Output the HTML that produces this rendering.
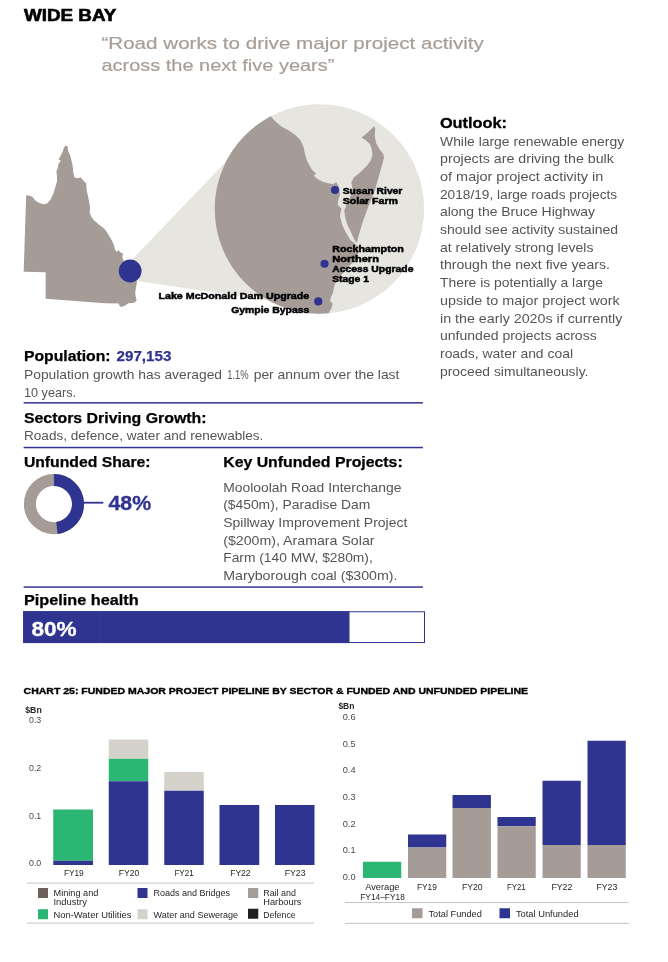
<!DOCTYPE html>
<html lang="en"><head><meta charset="utf-8"><title>Wide Bay</title>
<style>
html,body{margin:0;padding:0;background:#fff}
body{width:668px;height:962px;overflow:hidden}
svg{display:block}
svg text{font-family:"Liberation Sans",sans-serif;white-space:pre}
</style></head><body>
<svg width="668" height="962" viewBox="0 0 668 962">
<rect width="668" height="962" fill="#fff"/>
<g transform="translate(0.4,0.5)">
<text x="23.5" y="20" font-size="16.5" font-weight="700" fill="#000" textLength="92.5" lengthAdjust="spacingAndGlyphs" stroke="#000" stroke-width="0.6">WIDE BAY</text>
<text x="101" y="48.3" font-size="17" font-weight="400" fill="#a89e98" textLength="382.5" lengthAdjust="spacingAndGlyphs" stroke="#a89e98" stroke-width="0.2">“Road works to drive major project activity</text>
<text x="101" y="70.8" font-size="17" font-weight="400" fill="#a89e98" textLength="233" lengthAdjust="spacingAndGlyphs" stroke="#a89e98" stroke-width="0.2">across the next five years”</text>
<polygon points="129.6,261.3 245.0,140.7 289.6,303.3 137.1,280.4" fill="#e7e5e0"/>
<circle cx="319.0" cy="208.5" r="104.7" fill="#e7e5e0"/>
<path transform="translate(-0.5,-0.6)" d="M65.9,145.7 L67.5,146.3 L68.4,151.3 L70.3,155.7 L71.6,160.7 L72.6,165.2 L73.4,172.7 L74.7,177.7 L77.8,178.4 L81,177.5 L82.9,180.2 L86.3,183.4 L86.7,190.3 L87.9,195.3 L89.2,201.6 L90.2,207.9 L89.8,212.9 L91.7,217.3 L93.8,220 L98.9,224.5 L104.5,228.9 L107.7,233.3 L111.4,239.6 L114,245.2 L115.2,250.2 L117.1,252.1 L118.4,250.2 L120.9,252.8 L123.1,253.4 L122.5,257.2 L123.4,260.3 L130,271 L137.2,281.7 L136,288 L135.3,293 L136,298 L136.8,299.9 L135.3,302.4 L132.2,303.1 L128.4,303.3 L125.3,305.6 L121.5,307.2 L119.6,306.2 L119,303.7 L105.2,303.3 L45.75,298.9 L45.75,272.4 L23.75,271.75 L26.3,195.3 L29.4,195.6 L32.6,197.2 L35.1,200.4 L38.9,202.9 L43.3,204.4 L47,203.5 L50.2,200.4 L53.3,194.1 L55.2,187.8 L57.1,181.5 L57.1,176.5 L56.5,171.4 L57.7,168.9 L58.4,164.5 L60.9,160.7 L58.7,159.5 L60.5,156.3 L62.8,151.9 L64,147.5Z" fill="#a59c97"/>
<circle cx="129.75" cy="270.5" r="11.4" fill="#2f3490"/>
<clipPath id="cc"><circle cx="319.0" cy="208.5" r="104.7"/></clipPath>
<g clip-path="url(#cc)"><path d="M270.6,116.1 L274.8,120.7 L281.0,125.9 L288.4,130.1 L294.7,134.3 L299.9,139.6 L303.0,145.9 L304.5,153.2 L307.2,161.6 L311.4,168.9 L315.6,173.1 L313.5,175.2 L316.7,178.3 L321.9,180.9 L327.5,182.8 L332.5,183.6 L336.0,181.8 L338.8,187.0 L339.6,194.5 L338.0,198.9 L337.3,204.2 L341.0,207.9 L339.6,215.4 L341.8,224.4 L345.5,231.9 L350.0,239.4 L354.5,243.1 L358.6,247.6 L357.4,254.2 L355.7,259.1 L345.0,269.0 L337.6,278.9 L334.3,283.8 L332.6,292.1 L330.4,297.1 L329.6,300.5 L332.2,303.0 L331.3,307.3 L327.8,313.5 L200,330 L200,90 Z" fill="#a59c97"/>
<path d="M373.9,125.5 L374.8,128.2 L374.4,135.4 L375.7,142.6 L379.3,148.9 L382.9,153.4 L383.6,157.0 L379.6,172.0 L374.6,189.5 L367.6,207.0 L362.1,222.0 L358.4,234.5 L356.6,242.5 L354.1,239.5 L350.8,231.9 L347.0,224.4 L344.8,216.9 L343.8,210.0 L345.8,204.9 L349.6,197.0 L352.1,188.2 L350.9,182.0 L353.4,177.0 L359.6,172.0 L367.1,164.5 L370.6,159.5 L372.1,153.4 L371.2,148.0 L369.4,143.5 L365.8,139.9 L361.3,137.2 L363.1,135.4 L367.6,131.8 L371.2,128.2Z" fill="#a59c97"/></g>
<circle cx="334.6" cy="189.5" r="4.1" fill="#2f3490"/>
<circle cx="324.1" cy="263.25" r="4.1" fill="#2f3490"/>
<circle cx="317.9" cy="300.9" r="4.1" fill="#2f3490"/>
<text x="342.3" y="193.2" font-size="9.6" font-weight="700" fill="#000" textLength="59.7" lengthAdjust="spacingAndGlyphs" stroke="#000" stroke-width="0.5">Susan River</text>
<text x="342.3" y="203.2" font-size="9.6" font-weight="700" fill="#000" textLength="55.2" lengthAdjust="spacingAndGlyphs" stroke="#000" stroke-width="0.5">Solar Farm</text>
<text x="331.8" y="251.3" font-size="9.6" font-weight="700" fill="#000" textLength="71.7" lengthAdjust="spacingAndGlyphs" stroke="#000" stroke-width="0.5">Rockhampton</text>
<text x="331.8" y="261.5" font-size="9.6" font-weight="700" fill="#000" textLength="46.7" lengthAdjust="spacingAndGlyphs" stroke="#000" stroke-width="0.5">Northern</text>
<text x="331.8" y="271.9" font-size="9.6" font-weight="700" fill="#000" textLength="81.2" lengthAdjust="spacingAndGlyphs" stroke="#000" stroke-width="0.5">Access Upgrade</text>
<text x="331.8" y="281.8" font-size="9.6" font-weight="700" fill="#000" textLength="36.7" lengthAdjust="spacingAndGlyphs" stroke="#000" stroke-width="0.5">Stage 1</text>
<text x="158.0" y="298.6" font-size="9.6" font-weight="700" fill="#000" textLength="150.9" lengthAdjust="spacingAndGlyphs" stroke="#000" stroke-width="0.5">Lake McDonald Dam Upgrade</text>
<text x="230.8" y="312.2" font-size="9.6" font-weight="700" fill="#000" textLength="78.1" lengthAdjust="spacingAndGlyphs" stroke="#000" stroke-width="0.5">Gympie Bypass</text>
<text x="439.5" y="127.4" font-size="14.5" font-weight="700" fill="#000" textLength="67.1" lengthAdjust="spacingAndGlyphs" stroke="#000" stroke-width="0.3">Outlook:</text>
<text x="439.6" y="145.2" font-size="12.8" font-weight="400" fill="#555" textLength="184.1" lengthAdjust="spacingAndGlyphs" >While large renewable energy</text>
<text x="439.6" y="162.88" font-size="12.8" font-weight="400" fill="#555" textLength="173.9" lengthAdjust="spacingAndGlyphs" >projects are driving the bulk</text>
<text x="439.6" y="180.56" font-size="12.8" font-weight="400" fill="#555" textLength="163.4" lengthAdjust="spacingAndGlyphs" >of major project activity in</text>
<text x="439.6" y="198.24" font-size="12.8" font-weight="400" fill="#555" textLength="177.2" lengthAdjust="spacingAndGlyphs" >2018/19, large roads projects</text>
<text x="439.6" y="215.92" font-size="12.8" font-weight="400" fill="#555" textLength="155.1" lengthAdjust="spacingAndGlyphs" >along the Bruce Highway</text>
<text x="439.6" y="233.6" font-size="12.8" font-weight="400" fill="#555" textLength="178.1" lengthAdjust="spacingAndGlyphs" >should see activity sustained</text>
<text x="439.6" y="251.28" font-size="12.8" font-weight="400" fill="#555" textLength="153.4" lengthAdjust="spacingAndGlyphs" >at relatively strong levels</text>
<text x="439.6" y="268.96" font-size="12.8" font-weight="400" fill="#555" textLength="169.9" lengthAdjust="spacingAndGlyphs" >through the next five years.</text>
<text x="439.6" y="286.64" font-size="12.8" font-weight="400" fill="#555" textLength="163.0" lengthAdjust="spacingAndGlyphs" >There is potentially a large</text>
<text x="439.6" y="304.32" font-size="12.8" font-weight="400" fill="#555" textLength="179.8" lengthAdjust="spacingAndGlyphs" >upside to major project work</text>
<text x="439.6" y="322.0" font-size="12.8" font-weight="400" fill="#555" textLength="182.4" lengthAdjust="spacingAndGlyphs" >in the early 2020s if currently</text>
<text x="439.6" y="339.68" font-size="12.8" font-weight="400" fill="#555" textLength="156.7" lengthAdjust="spacingAndGlyphs" >unfunded projects across</text>
<text x="439.6" y="357.36" font-size="12.8" font-weight="400" fill="#555" textLength="133.0" lengthAdjust="spacingAndGlyphs" >roads, water and coal</text>
<text x="439.6" y="375.04" font-size="12.8" font-weight="400" fill="#555" textLength="148.4" lengthAdjust="spacingAndGlyphs" >proceed simultaneously.</text>
<text x="23.5" y="360.6" font-size="14.4" font-weight="700" fill="#000" textLength="86.7" lengthAdjust="spacingAndGlyphs" stroke="#000" stroke-width="0.25">Population:</text>
<text x="116.2" y="360.6" font-size="14.4" font-weight="700" fill="#2f3490" textLength="54.8" lengthAdjust="spacingAndGlyphs" stroke="#2f3490" stroke-width="0.25">297,153</text>
<text x="23.6" y="378.2" font-size="12.6" font-weight="400" fill="#555" textLength="198.0" lengthAdjust="spacingAndGlyphs" >Population growth has averaged</text>
<text x="226.8" y="378.2" font-size="12.6" font-weight="400" fill="#555" textLength="21.4" lengthAdjust="spacingAndGlyphs" >1.1%</text>
<text x="253.3" y="378.2" font-size="12.6" font-weight="400" fill="#555" textLength="145.7" lengthAdjust="spacingAndGlyphs" >per annum over the last</text>
<text x="23.6" y="396.1" font-size="12.6" font-weight="400" fill="#555" textLength="52.0" lengthAdjust="spacingAndGlyphs" >10 years.</text>
<rect x="23.2" y="401.6" width="399.3" height="1.5" fill="#2f3490"/>
<text x="23.5" y="422.3" font-size="14.4" font-weight="700" fill="#000" textLength="182.7" lengthAdjust="spacingAndGlyphs" stroke="#000" stroke-width="0.25">Sectors Driving Growth:</text>
<text x="23.6" y="439.5" font-size="12.6" font-weight="400" fill="#555" textLength="239.4" lengthAdjust="spacingAndGlyphs" >Roads, defence, water and renewables.</text>
<rect x="23.2" y="446.3" width="399.3" height="1.5" fill="#2f3490"/>
<text x="23.5" y="466.5" font-size="14.4" font-weight="700" fill="#000" textLength="126.7" lengthAdjust="spacingAndGlyphs" stroke="#000" stroke-width="0.25">Unfunded Share:</text>
<text x="222.8" y="466.5" font-size="14.4" font-weight="700" fill="#000" textLength="179.5" lengthAdjust="spacingAndGlyphs" stroke="#000" stroke-width="0.25">Key Unfunded Projects:</text>
<text x="222.8" y="491.35" font-size="12.6" font-weight="400" fill="#555" textLength="178.3" lengthAdjust="spacingAndGlyphs" >Mooloolah Road Interchange</text>
<text x="222.8" y="508.94" font-size="12.6" font-weight="400" fill="#555" textLength="147.0" lengthAdjust="spacingAndGlyphs" >($450m), Paradise Dam</text>
<text x="222.8" y="526.53" font-size="12.6" font-weight="400" fill="#555" textLength="184.2" lengthAdjust="spacingAndGlyphs" >Spillway Improvement Project</text>
<text x="222.8" y="544.12" font-size="12.6" font-weight="400" fill="#555" textLength="151.3" lengthAdjust="spacingAndGlyphs" >($200m), Aramara Solar</text>
<text x="222.8" y="561.71" font-size="12.6" font-weight="400" fill="#555" textLength="149.6" lengthAdjust="spacingAndGlyphs" >Farm (140 MW, $280m),</text>
<text x="222.8" y="579.3" font-size="12.6" font-weight="400" fill="#555" textLength="174.3" lengthAdjust="spacingAndGlyphs" >Maryborough coal ($300m).</text>
<circle cx="53.55" cy="503.6" r="24.05" fill="none" stroke="#a59c97" stroke-width="12"/>
<path d="M53.55,479.55 A24.05,24.05 0 0 1 56.56,527.46" fill="none" stroke="#2f3490" stroke-width="12"/>
<rect x="83.4" y="501.3" width="19.5" height="1.8" fill="#2f3490"/>
<text x="108.1" y="509.8" font-size="20" font-weight="700" fill="#2f3490" textLength="42.7" lengthAdjust="spacingAndGlyphs" stroke="#2f3490" stroke-width="0.3">48%</text>
<rect x="23.2" y="585.8" width="399.3" height="1.5" fill="#2f3490"/>
<text x="23.5" y="604.3" font-size="14.4" font-weight="700" fill="#000" textLength="114.7" lengthAdjust="spacingAndGlyphs" stroke="#000" stroke-width="0.25">Pipeline health</text>
<rect x="23.3" y="611.25" width="400.8" height="30.8" fill="#fff" stroke="#2f3490" stroke-width="1"/>
<rect x="22.8" y="610.75" width="326.3" height="31.8" fill="#2f3490"/>
<rect x="99.1" y="610.75" width="0.6" height="31.8" fill="#fff" fill-opacity="0.09"/>
<text x="31.0" y="635.0" font-size="20.5" font-weight="700" fill="#fff" textLength="45.2" lengthAdjust="spacingAndGlyphs" stroke="#fff" stroke-width="0.3">80%</text>
<text x="23.2" y="693.5" font-size="9.3" font-weight="700" fill="#000" textLength="504.5" lengthAdjust="spacingAndGlyphs" stroke="#000" stroke-width="0.35">CHART 25: FUNDED MAJOR PROJECT PIPELINE BY SECTOR &amp; FUNDED AND UNFUNDED PIPELINE</text>
<text x="24.8" y="712.0" font-size="8.8" font-weight="700" fill="#231f20" textLength="16.6" lengthAdjust="spacingAndGlyphs" >$Bn</text>
<text x="28.6" y="722.6" font-size="8.6" font-weight="400" fill="#4a4a4a" textLength="12.3" lengthAdjust="spacingAndGlyphs" >0.3</text>
<text x="28.6" y="770.35" font-size="8.6" font-weight="400" fill="#4a4a4a" textLength="12.3" lengthAdjust="spacingAndGlyphs" >0.2</text>
<text x="28.6" y="818.1" font-size="8.6" font-weight="400" fill="#4a4a4a" textLength="12.3" lengthAdjust="spacingAndGlyphs" >0.1</text>
<text x="28.6" y="865.85" font-size="8.6" font-weight="400" fill="#4a4a4a" textLength="12.3" lengthAdjust="spacingAndGlyphs" >0.0</text>
<rect x="52.85" y="809.0" width="39.75" height="51.25" fill="#2bb673"/>
<rect x="52.85" y="860.25" width="39.75" height="4.25" fill="#2f3490"/>
<rect x="108.35" y="739.0" width="39.5" height="19.25" fill="#d5d1cb"/>
<rect x="108.35" y="758.25" width="39.5" height="22.5" fill="#2bb673"/>
<rect x="108.35" y="780.75" width="39.5" height="83.75" fill="#2f3490"/>
<rect x="163.85" y="771.5" width="39.5" height="18.75" fill="#d5d1cb"/>
<rect x="163.85" y="790.25" width="39.5" height="74.25" fill="#2f3490"/>
<rect x="219.1" y="804.5" width="39.75" height="60" fill="#2f3490"/>
<rect x="274.6" y="804.5" width="39.5" height="60" fill="#2f3490"/>
<text x="63.5" y="875.6" font-size="8.6" font-weight="400" fill="#231f20" textLength="19.7" lengthAdjust="spacingAndGlyphs" >FY19</text>
<text x="118.4" y="875.6" font-size="8.6" font-weight="400" fill="#231f20" textLength="20.6" lengthAdjust="spacingAndGlyphs" >FY20</text>
<text x="174" y="875.6" font-size="8.6" font-weight="400" fill="#231f20" textLength="19.2" lengthAdjust="spacingAndGlyphs" >FY21</text>
<text x="229.8" y="875.6" font-size="8.6" font-weight="400" fill="#231f20" textLength="20.4" lengthAdjust="spacingAndGlyphs" >FY22</text>
<text x="284.3" y="875.6" font-size="8.6" font-weight="400" fill="#231f20" textLength="20.9" lengthAdjust="spacingAndGlyphs" >FY23</text>
<rect x="26.6" y="882.2" width="286.75" height="0.7" fill="#b0aca8"/>
<rect x="26.6" y="922.2" width="286.75" height="0.7" fill="#b0aca8"/>
<rect x="37.6" y="887.5" width="10" height="10" fill="#6d6059"/>
<rect x="37.6" y="908.75" width="10" height="10.0" fill="#2bb673"/>
<rect x="137.1" y="887.5" width="10.0" height="10" fill="#2f3490"/>
<rect x="137.1" y="908.75" width="10.0" height="10.0" fill="#d5d1cb"/>
<rect x="247.6" y="887.5" width="10.25" height="10" fill="#a59d99"/>
<rect x="247.6" y="908.25" width="10.25" height="10.0" fill="#231f20"/>
<text x="53.1" y="895.8" font-size="8.8" font-weight="400" fill="#231f20" textLength="44.9" lengthAdjust="spacingAndGlyphs" >Mining and</text>
<text x="53.1" y="904.6" font-size="8.8" font-weight="400" fill="#231f20" textLength="33.4" lengthAdjust="spacingAndGlyphs" >Industry</text>
<text x="53.1" y="917.5" font-size="8.8" font-weight="400" fill="#231f20" textLength="77.9" lengthAdjust="spacingAndGlyphs" >Non-Water Utilities</text>
<text x="153.1" y="895.8" font-size="8.8" font-weight="400" fill="#231f20" textLength="76.6" lengthAdjust="spacingAndGlyphs" >Roads and Bridges</text>
<text x="153.1" y="917.5" font-size="8.8" font-weight="400" fill="#231f20" textLength="84.6" lengthAdjust="spacingAndGlyphs" >Water and Sewerage</text>
<text x="262.8" y="895.8" font-size="8.8" font-weight="400" fill="#231f20" textLength="32.7" lengthAdjust="spacingAndGlyphs" >Rail and</text>
<text x="262.8" y="904.6" font-size="8.8" font-weight="400" fill="#231f20" textLength="38.2" lengthAdjust="spacingAndGlyphs" >Harbours</text>
<text x="262.8" y="917" font-size="8.8" font-weight="400" fill="#231f20" textLength="32.4" lengthAdjust="spacingAndGlyphs" >Defence</text>
<text x="338" y="708.3" font-size="8.8" font-weight="700" fill="#231f20" textLength="16" lengthAdjust="spacingAndGlyphs" >$Bn</text>
<text x="342.3" y="719.6" font-size="8.6" font-weight="400" fill="#4a4a4a" textLength="12.9" lengthAdjust="spacingAndGlyphs" >0.6</text>
<text x="342.3" y="746.22" font-size="8.6" font-weight="400" fill="#4a4a4a" textLength="12.9" lengthAdjust="spacingAndGlyphs" >0.5</text>
<text x="342.3" y="772.84" font-size="8.6" font-weight="400" fill="#4a4a4a" textLength="12.9" lengthAdjust="spacingAndGlyphs" >0.4</text>
<text x="342.3" y="799.46" font-size="8.6" font-weight="400" fill="#4a4a4a" textLength="12.9" lengthAdjust="spacingAndGlyphs" >0.3</text>
<text x="342.3" y="826.08" font-size="8.6" font-weight="400" fill="#4a4a4a" textLength="12.9" lengthAdjust="spacingAndGlyphs" >0.2</text>
<text x="342.3" y="852.7" font-size="8.6" font-weight="400" fill="#4a4a4a" textLength="12.9" lengthAdjust="spacingAndGlyphs" >0.1</text>
<text x="342.3" y="879.32" font-size="8.6" font-weight="400" fill="#4a4a4a" textLength="12.9" lengthAdjust="spacingAndGlyphs" >0.0</text>
<rect x="362.6" y="861.25" width="38.25" height="16.25" fill="#2bb673"/>
<rect x="407.6" y="834.0" width="38.25" height="13.0" fill="#2f3490"/>
<rect x="407.6" y="847.0" width="38.25" height="30.5" fill="#a59c97"/>
<rect x="452.1" y="794.5" width="38.4" height="13" fill="#2f3490"/>
<rect x="452.1" y="807.5" width="38.4" height="70" fill="#a59c97"/>
<rect x="497.1" y="816.5" width="38.25" height="9.25" fill="#2f3490"/>
<rect x="497.1" y="825.75" width="38.25" height="51.75" fill="#a59c97"/>
<rect x="542.1" y="780.25" width="38.25" height="64.25" fill="#2f3490"/>
<rect x="542.1" y="844.5" width="38.25" height="33" fill="#a59c97"/>
<rect x="587.1" y="740.25" width="38.25" height="104.25" fill="#2f3490"/>
<rect x="587.1" y="844.5" width="38.25" height="33" fill="#a59c97"/>
<text x="364.8" y="889.5" font-size="8.6" font-weight="400" fill="#231f20" textLength="34.2" lengthAdjust="spacingAndGlyphs" >Average</text>
<text x="359.8" y="899.5" font-size="8.6" font-weight="400" fill="#231f20" textLength="44.7" lengthAdjust="spacingAndGlyphs" >FY14–FY18</text>
<text x="416.5" y="889.5" font-size="8.6" font-weight="400" fill="#231f20" textLength="20.0" lengthAdjust="spacingAndGlyphs" >FY19</text>
<text x="461.5" y="889.5" font-size="8.6" font-weight="400" fill="#231f20" textLength="20.7" lengthAdjust="spacingAndGlyphs" >FY20</text>
<text x="506.5" y="889.5" font-size="8.6" font-weight="400" fill="#231f20" textLength="18.7" lengthAdjust="spacingAndGlyphs" >FY21</text>
<text x="551" y="889.5" font-size="8.6" font-weight="400" fill="#231f20" textLength="21" lengthAdjust="spacingAndGlyphs" >FY22</text>
<text x="596" y="889.5" font-size="8.6" font-weight="400" fill="#231f20" textLength="21" lengthAdjust="spacingAndGlyphs" >FY23</text>
<rect x="344.6" y="901.7" width="283.75" height="0.7" fill="#b0aca8"/>
<rect x="344.6" y="922.4" width="283.75" height="0.7" fill="#b0aca8"/>
<rect x="411.6" y="907.75" width="10.5" height="10.0" fill="#a59c97"/>
<rect x="499.1" y="907.75" width="10.5" height="10.0" fill="#2f3490"/>
<text x="428" y="916.8" font-size="8.8" font-weight="400" fill="#231f20" textLength="53.5" lengthAdjust="spacingAndGlyphs" >Total Funded</text>
<text x="515.5" y="916.8" font-size="8.8" font-weight="400" fill="#231f20" textLength="62.7" lengthAdjust="spacingAndGlyphs" >Total Unfunded</text>
</g></svg></body></html>
